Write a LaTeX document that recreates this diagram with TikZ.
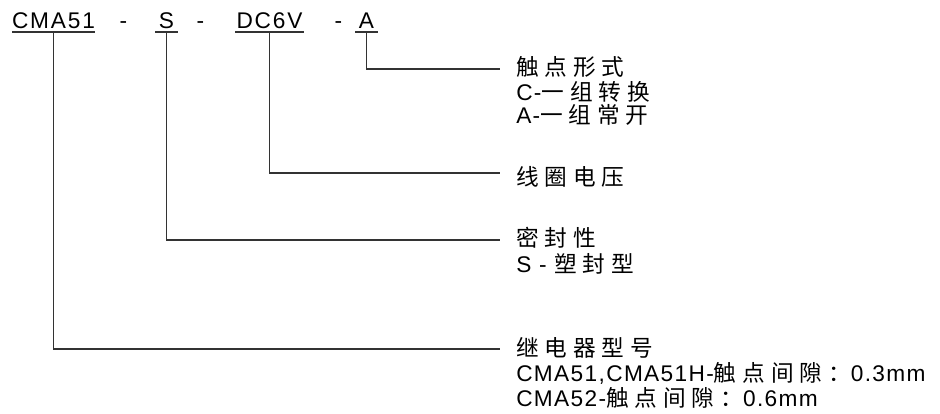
\documentclass[tikz,border=0pt]{standalone}
\usepackage{fontspec}
\setmainfont{Liberation Sans}
\newfontfamily\latf[LetterSpace=8]{Liberation Sans}
\newfontfamily\latd[LetterSpace=6]{Liberation Sans}
\newfontfamily\cjkf[LetterSpace=26]{Noto Sans CJK SC}
\newcommand\zh[1]{{\cjkf #1}}
\begin{document}
\begin{tikzpicture}[x=0.75pt,y=-0.75pt,
  code/.style={anchor=base, inner sep=0pt, font=\fontsize{17}{20}\latf, text=black},
  desc/.style={anchor=base west, inner sep=0pt, font=\fontsize{17}{20}\latd, text=black},
  lead/.style={line width=0.9pt, draw=black!80}]
\useasboundingbox (0,0) rectangle (940,414);
% code row
\node[code] (c1) at (53.5,28) {CMA51};
\node[code] (d1) at (123.5,28) {-};
\node[code] (c2) at (166.5,28) {S};
\node[code] (d2) at (200.5,28) {-};
\node[code] (c3) at (269.5,28) {DC6V};
\node[code] (d3) at (338.5,28) {-};
\node[code] (c4) at (366.5,28) {A};
% underlines
\coordinate (u1a) at (12,32); \coordinate (u1b) at (95,32); \coordinate (u1) at (53.5,32);
\coordinate (u2a) at (155,32); \coordinate (u2b) at (178,32); \coordinate (u2) at (166.5,32);
\coordinate (u3a) at (235,32); \coordinate (u3b) at (304,32); \coordinate (u3) at (269.5,32);
\coordinate (u4a) at (355,32); \coordinate (u4b) at (378,32); \coordinate (u4) at (366.5,32);
\draw[lead] (u1a) -- (u1b);
\draw[lead] (u2a) -- (u2b);
\draw[lead] (u3a) -- (u3b);
\draw[lead] (u4a) -- (u4b);
% line ends
\coordinate (e4) at (500,69);
\coordinate (e3) at (500,173);
\coordinate (e2) at (500,240);
\coordinate (e1) at (500,349);
\draw[lead] (u4) |- (e4);
\draw[lead] (u3) |- (e3);
\draw[lead] (u2) |- (e2);
\draw[lead] (u1) |- (e1);
% descriptions
\node[desc] (t4a) at (516,75) {\zh{触点形式}};
\node[desc] (t4b) at (516,100) {C-\zh{一组转换}};
\node[desc] (t4c) at (516,123) {A-\zh{一组常开}};
\node[desc] (t3a) at (516,185) {\zh{线圈电压}};
\node[desc] (t2a) at (516,246) {\zh{密封性}};
\node[desc] (t2b) at (516,272) {S - \zh{塑封型}};
\node[desc] (t1a) at (516,356) {\zh{继电器型号}};
\node[desc] (t1b) at (516,381) {CMA51,CMA51H-\zh{触点间隙：}0.3mm};
\node[desc] (t1c) at (516,406) {CMA52-\zh{触点间隙：}0.6mm};
\end{tikzpicture}
\end{document}
